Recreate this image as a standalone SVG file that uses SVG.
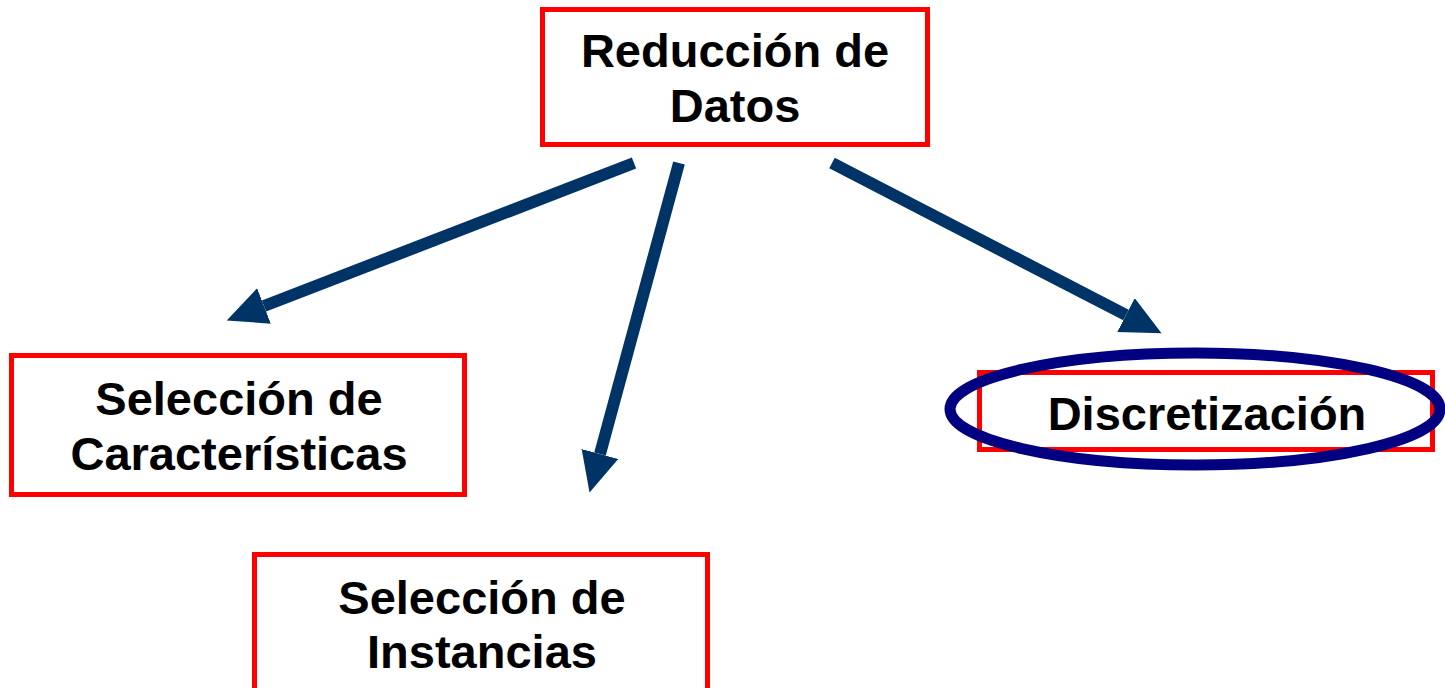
<svg xmlns="http://www.w3.org/2000/svg" width="1445" height="688" viewBox="0 0 1445 688">
<style>
.box{fill:#ffffff;stroke:#ff0000;stroke-width:5}
.lbl{font-family:"Liberation Sans",Arial,sans-serif;font-weight:bold;font-size:47px;fill:#000000;text-anchor:middle}
.arr{stroke:#003366;stroke-width:12;fill:none;marker-end:url(#head)}
</style>
<defs>
<marker id="head" markerUnits="userSpaceOnUse" markerWidth="42" markerHeight="40" refX="0" refY="19" orient="auto">
<path d="M0,0 L40,19 L0,38 Z" fill="#003366"/>
</marker>
</defs>
<rect width="1445" height="688" fill="#ffffff"/>
<g id="n-reduccion">
<rect class="box" x="542.5" y="9.5" width="385" height="135"/>
<text class="lbl" x="735" y="67">Reducción de</text>
<text class="lbl" x="735" y="122">Datos</text>
</g>
<g id="n-caracteristicas">
<rect class="box" x="11.5" y="355.5" width="453" height="139"/>
<text class="lbl" x="239" y="415">Selección de</text>
<text class="lbl" x="239" y="470">Características</text>
</g>
<g id="n-instancias">
<rect class="box" x="254.5" y="554.5" width="453" height="145"/>
<text class="lbl" x="482" y="614">Selección de</text>
<text class="lbl" x="482" y="668">Instancias</text>
</g>
<g id="n-discretizacion">
<rect class="box" x="979.5" y="372.5" width="453" height="77"/>
<text class="lbl" x="1207" y="430">Discretización</text>
<ellipse cx="1195" cy="409" rx="245" ry="56" fill="none" stroke="#000080" stroke-width="11"/>
</g>
<g id="connectors">
<line class="arr" x1="634" y1="163" x2="264" y2="306"/>
<line class="arr" x1="679" y1="163" x2="600" y2="454"/>
<line class="arr" x1="832" y1="163" x2="1126" y2="315"/>
</g>
</svg>
